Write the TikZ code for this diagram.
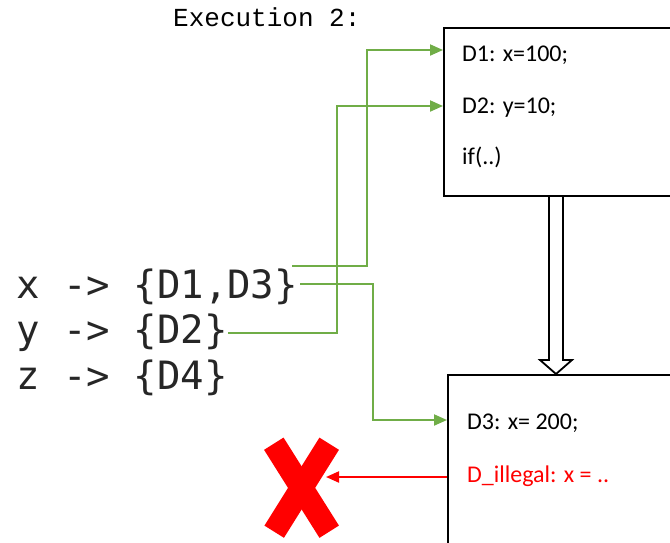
\documentclass[tikz,border=0pt]{standalone}
\usepackage{fontspec}
\setmainfont{Carlito}
\newfontfamily\codefont{DejaVu Sans Mono}
\newfontfamily\courfont{Liberation Mono}
\usetikzlibrary{arrows.meta,calc}
\definecolor{xgreen}{HTML}{70AD47}
\definecolor{xred}{HTML}{FF0000}
\tikzset{
  box/.style={draw=black, line width=2pt, inner sep=0pt, anchor=north west},
  boxtext/.style={inner sep=0pt, anchor=base west, font=\fontsize{24}{28}\selectfont},
  codetext/.style={inner sep=0pt, anchor=base west, text=black!85, font=\codefont\fontsize{39}{44}\selectfont},
  garrow/.style={draw=xgreen, line width=2pt, -{Triangle[length=13pt,width=11pt]}},
  rarrow/.style={draw=xred, line width=2pt, -{Triangle[length=13pt,width=11pt]}},
  hollowarrow/.style={draw=black, line width=1.8pt, line join=miter},
  xstroke/.style={draw=xred, line width=23pt, line cap=butt}
}
\begin{document}
\begin{tikzpicture}[x=1pt,y=-1pt]
\clip (0,0) rectangle (670,542);
\fill[white] (0,0) rectangle (670,542);

% title
\node[inner sep=0pt, anchor=base west, font=\courfont\fontsize{26}{30}\selectfont] (title) at (173,26) {Execution 2:};

% boxes
\node[box, minimum width=270pt, minimum height=168pt] (top) at (443,27) {};
\node[box, minimum width=270pt, minimum height=200pt] (bot) at (447,374) {};

% box texts
\node[boxtext] (d1) at (462,61) {D1: x=100;};
\node[boxtext] (d2) at (462,113) {D2: y=10;};
\node[boxtext] (if) at (462,164) {if(..)};
\node[boxtext] (d3) at (467,429) {D3: x= 200;};
\node[boxtext, text=xred] (dil) at (467,482) {D\_illegal: x = ..};

% code lines
\node[codetext] (xl) at (16,298) {x -> \{D1,D3\}};
\node[codetext] (yl) at (16,343) {y -> \{D2\}};
\node[codetext] (zl) at (16,389) {z -> \{D4\}};

% connector endpoints
\coordinate (xs1) at (292,266);
\coordinate (xs2) at (300,284);
\coordinate (ys) at (228,333);
\coordinate (d1in) at (top.west |- 0,50);
\coordinate (d2in) at (top.west |- 0,106);
\coordinate (d3in) at (bot.west |- 0,420);

% green connectors
\draw[garrow] (xs1) -| (367,50) -- (d1in);
\draw[garrow] (ys) -| (337,106) -- (d2in);
\draw[garrow] (xs2) -| (373,420) -- (d3in);

% hollow down arrow between boxes
\coordinate (ds) at (556,0 |- top.south);
\coordinate (dt) at (556,0 |- bot.north);
\draw[hollowarrow] ($(ds)+(-7,0)$) -- ($(dt)+(-7,-14)$) -- ($(dt)+(-16,-14)$) -- (dt)
  -- ($(dt)+(16,-14)$) -- ($(dt)+(7,-14)$) -- ($(ds)+(7,0)$);

% red X
\coordinate (xc) at (301.5,487.5);
\draw[xstroke] (273.8,443.7) -- (329.2,531.7);
\draw[xstroke] (329.2,443.7) -- (274.2,531.7);
\coordinate (xr) at (326,477);
\draw[rarrow] (bot.west |- 0,477) -- (xr);
\end{tikzpicture}
\end{document}
